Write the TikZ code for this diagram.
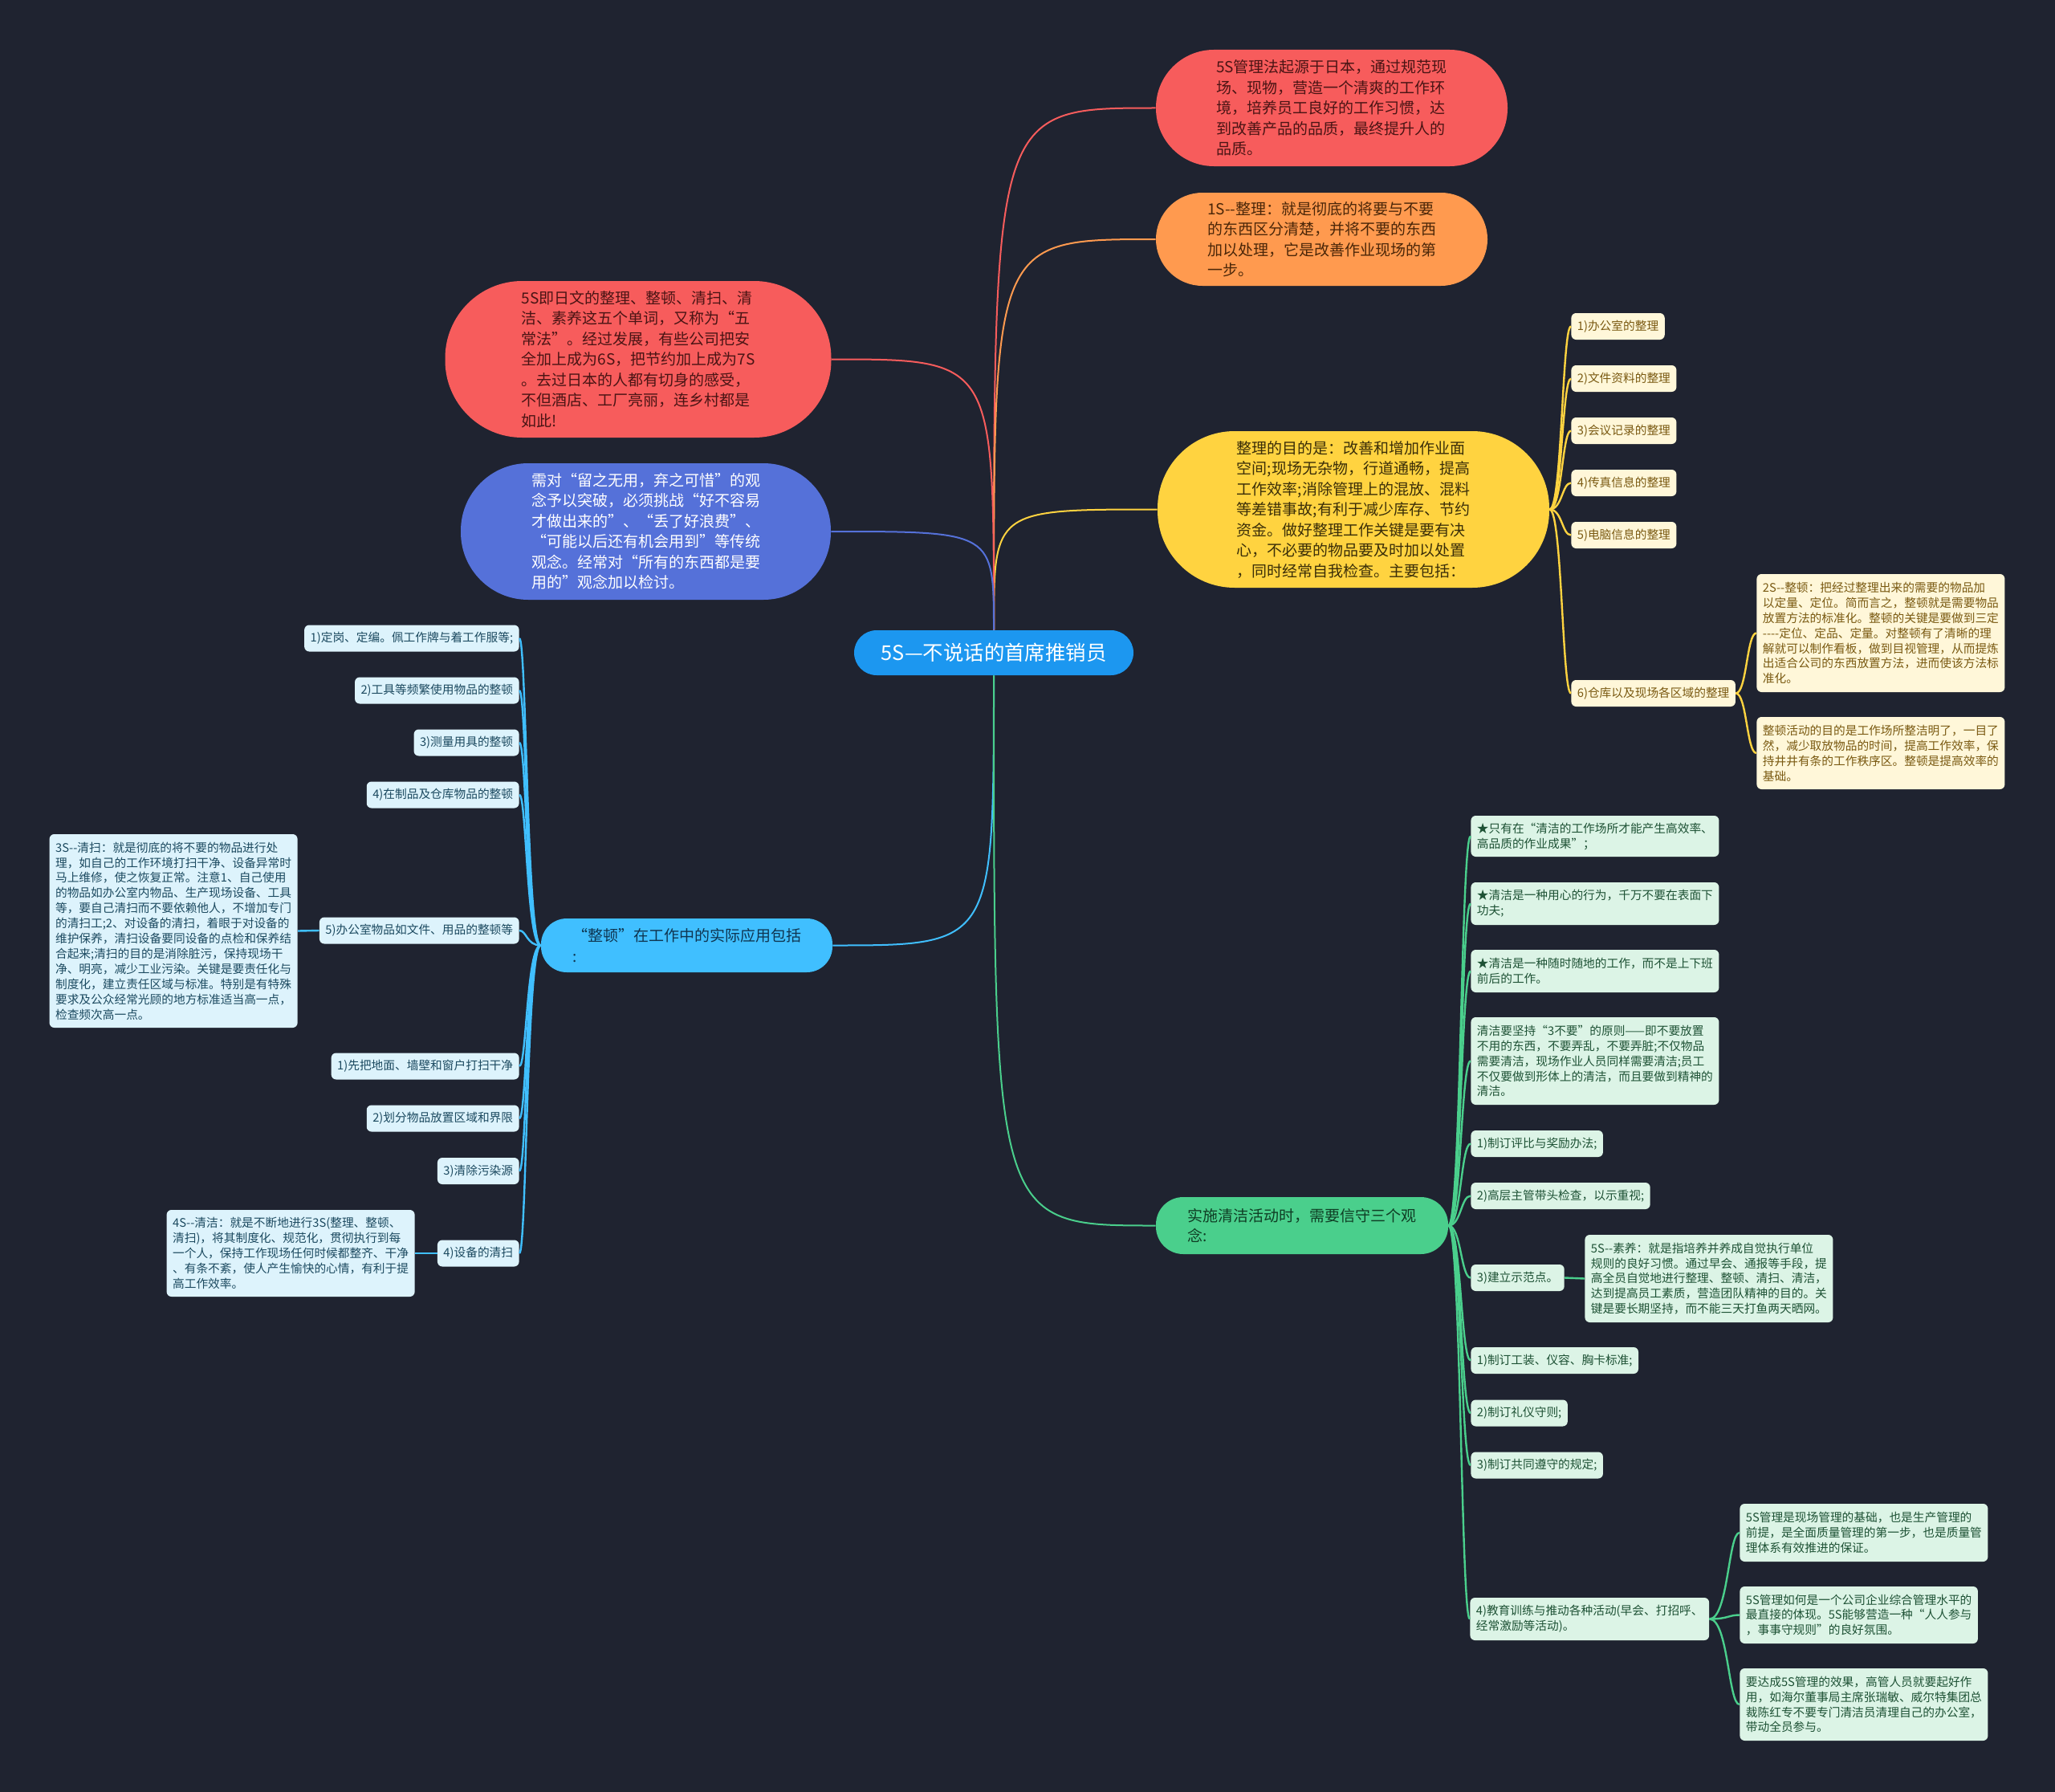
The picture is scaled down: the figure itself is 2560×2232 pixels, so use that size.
\documentclass[tikz,border=0pt]{standalone}
\usepackage{fontspec}
\setmainfont{Noto Sans CJK SC}
\usetikzlibrary{calc}
\definecolor{bg}{HTML}{1F2330}
\definecolor{ctr}{HTML}{1C97F0}
\definecolor{redc}{HTML}{F75C5C}
\definecolor{redt}{HTML}{4A1414}
\definecolor{orgc}{HTML}{FF9A4F}
\definecolor{orgt}{HTML}{4A2608}
\definecolor{ylwc}{HTML}{FFD340}
\definecolor{ylwt}{HTML}{3A2E08}
\definecolor{bluc}{HTML}{5571D9}
\definecolor{skyc}{HTML}{40BFFF}
\definecolor{skyt}{HTML}{0F3550}
\definecolor{grnc}{HTML}{4ACF8C}
\definecolor{grnt}{HTML}{0F3D24}
\definecolor{lfYfill}{HTML}{FFF7D9}
\definecolor{lfYtext}{HTML}{7A5A12}
\definecolor{lfBfill}{HTML}{DDF3FC}
\definecolor{lfBtext}{HTML}{1C4A60}
\definecolor{lfGfill}{HTML}{DCF4E6}
\definecolor{lfGtext}{HTML}{1E5235}
\newcommand\fntbig{\fontsize{9.5pt}{12.75pt}\selectfont}
\newcommand\fntsm{\fontsize{7.35pt}{9.45pt}\selectfont}
\newcommand\fntctr{\fontsize{12.7pt}{15pt}\selectfont}
\tikzset{
  leaf/.style={rounded corners=3pt, inner xsep=3.75pt, inner ysep=1.5pt, align=left, font=\fntsm},
  lfY/.style={leaf, fill=lfYfill, text=lfYtext},
  lfB/.style={leaf, fill=lfBfill, text=lfBtext},
  lfG/.style={leaf, fill=lfGfill, text=lfGtext},
  one/.style={minimum height=16.5pt},
  mainnode/.style={inner sep=0pt, align=left, font=\fntbig},
  cn/.style={line width=1pt},
  sub/.style={line width=1.2pt},
}
\begin{document}
\begin{tikzpicture}[x=0.5pt,y=-0.5pt]
\fill[bg] (0,0) rectangle (2560,2232);

% ---------- main nodes ----------
\node[fill=ctr, text=white, rounded corners=14pt, minimum width=174pt, minimum height=28pt, inner sep=0pt, font=\fntctr] (c) at (1238,813) {5S—不说话的首席推销员};

\node[mainnode, fill=redc, text=redt, rounded corners=36pt, minimum width=219pt, minimum height=72.5pt] (r1) at (1659,134.5) {5S管理法起源于日本，通过规范现\\场、现物，营造一个清爽的工作环\\境，培养员工良好的工作习惯，达\\到改善产品的品质，最终提升人的\\品质。};

\node[mainnode, fill=orgc, text=orgt, rounded corners=29pt, minimum width=206.5pt, minimum height=58pt] (o1) at (1646.5,298) {1S-{}-整理：就是彻底的将要与不要\\的东西区分清楚，并将不要的东西\\加以处理，它是改善作业现场的第\\一步。};

\node[mainnode, fill=ylwc, text=ylwt, rounded corners=48pt, minimum width=244pt, minimum height=97.5pt] (y1) at (1686,634.5) {整理的目的是：改善和增加作业面\\空间;现场无杂物，行道通畅，提高\\工作效率;消除管理上的混放、混料\\等差错事故;有利于减少库存、节约\\资金。做好整理工作关键是要有决\\心，不必要的物品要及时加以处置\\，同时经常自我检查。主要包括：};

\node[mainnode, fill=redc, text=redt, rounded corners=48pt, minimum width=240.5pt, minimum height=97.5pt] (r2) at (795,447.5) {5S即日文的整理、整顿、清扫、清\\洁、素养这五个单词，又称为“五\\常法”。经过发展，有些公司把安\\全加上成为6S，把节约加上成为7S\\。去过日本的人都有切身的感受，\\不但酒店、工厂亮丽，连乡村都是\\如此!};

\node[mainnode, fill=bluc, text=white, rounded corners=42pt, minimum width=230.5pt, minimum height=85pt] (b2) at (804.5,662) {需对“留之无用，弃之可惜”的观\\念予以突破，必须挑战“好不容易\\才做出来的”、“丢了好浪费”、\\“可能以后还有机会用到”等传统\\观念。经常对“所有的东西都是要\\用的”观念加以检讨。};

\node[mainnode, fill=skyc, text=skyt, rounded corners=16pt, minimum width=181.5pt, minimum height=33.5pt] (zd) at (855.5,1177.5) {“整顿”在工作中的实际应用包括\\:};

\node[mainnode, fill=grnc, text=grnt, rounded corners=17pt, minimum width=182pt, minimum height=35.5pt] (gr) at (1622,1526.5) {实施清洁活动时，需要信守三个观\\念:};

% ---------- main connectors ----------
\draw[cn, redc] (c.north) .. controls (c.north |- r1.west) .. (r1.west);
\draw[cn, orgc] (c.north) .. controls (c.north |- o1.west) .. (o1.west);
\draw[cn, ylwc] (c.north) .. controls (c.north |- y1.west) .. (y1.west);
\draw[cn, redc] (c.north) .. controls (c.north |- r2.east) .. (r2.east);
\draw[cn, bluc] (c.north) .. controls (c.north |- b2.east) .. (b2.east);
\draw[cn, skyc] (c.south) .. controls (c.south |- zd.east) .. (zd.east);
\draw[cn, grnc] (c.south) .. controls (c.south |- gr.west) .. (gr.west);

% ---------- yellow children ----------
\node[lfY, one, anchor=west] (ya) at (1957,406.5) {1)办公室的整理};
\node[lfY, one, anchor=west] (yb) at (1957,471.5) {2)文件资料的整理};
\node[lfY, one, anchor=west] (yc) at (1957,536.5) {3)会议记录的整理};
\node[lfY, one, anchor=west] (yd) at (1957,601.5) {4)传真信息的整理};
\node[lfY, one, anchor=west] (ye) at (1957,666.5) {5)电脑信息的整理};
\node[lfY, one, anchor=west] (yf) at (1957,863.5) {6)仓库以及现场各区域的整理};
\node[lfY, anchor=west, minimum height=73.5pt] (yfa) at (2188,788.5) {2S-{}-整顿：把经过整理出来的需要的物品加\\以定量、定位。简而言之，整顿就是需要物品\\放置方法的标准化。整顿的关键是要做到三定\\-{}-{}-{}-定位、定品、定量。对整顿有了清晰的理\\解就可以制作看板，做到目视管理，从而提炼\\出适合公司的东西放置方法，进而使该方法标\\准化。};
\node[lfY, anchor=west, minimum height=45pt] (yfb) at (2188,938) {整顿活动的目的是工作场所整洁明了，一目了\\然，减少取放物品的时间，提高工作效率，保\\持井井有条的工作秩序区。整顿是提高效率的\\基础。};

\coordinate (ty) at (1946,0);
\coordinate (tyf) at (2176,0);
\foreach \n in {ya,yb,yc,yd,ye,yf}
  \draw[sub, ylwc] (y1.east) .. controls (y1.east -| ty) and (\n.west -| ty) .. (\n.west);
\foreach \n in {yfa,yfb}
  \draw[sub, ylwc] (yf.east) .. controls (yf.east -| tyf) and (\n.west -| tyf) .. (\n.west);

% ---------- sky (zhengdun) children ----------
\node[lfB, one, anchor=east] (za) at (647,795) {1)定岗、定编。佩工作牌与着工作服等;};
\node[lfB, one, anchor=east] (zb) at (647,860) {2)工具等频繁使用物品的整顿};
\node[lfB, one, anchor=east] (zc) at (647,925) {3)测量用具的整顿};
\node[lfB, one, anchor=east] (zdd) at (647,990) {4)在制品及仓库物品的整顿};
\node[lfB, one, anchor=east] (ze) at (647,1159) {5)办公室物品如文件、用品的整顿等};
\node[lfB, anchor=east, minimum height=120.5pt] (zea) at (371,1159.5) {3S-{}-清扫：就是彻底的将不要的物品进行处\\理，如自己的工作环境打扫干净、设备异常时\\马上维修，使之恢复正常。注意1、自己使用\\的物品如办公室内物品、生产现场设备、工具\\等，要自己清扫而不要依赖他人，不增加专门\\的清扫工;2、对设备的清扫，着眼于对设备的\\维护保养，清扫设备要同设备的点检和保养结\\合起来;清扫的目的是消除脏污，保持现场干\\净、明亮，减少工业污染。关键是要责任化与\\制度化，建立责任区域与标准。特别是有特殊\\要求及公众经常光顾的地方标准适当高一点，\\检查频次高一点。};
\node[lfB, one, anchor=east] (zf) at (647,1328) {1)先把地面、墙壁和窗户打扫干净};
\node[lfB, one, anchor=east] (zg) at (647,1393) {2)划分物品放置区域和界限};
\node[lfB, one, anchor=east] (zh) at (647,1458.5) {3)清除污染源};
\node[lfB, one, anchor=east] (zi) at (647,1561) {4)设备的清扫};
\node[lfB, anchor=east, minimum height=54pt] (zia) at (517,1561) {4S-{}-清洁：就是不断地进行3S(整理、整顿、\\清扫)，将其制度化、规范化，贯彻执行到每\\一个人，保持工作现场任何时候都整齐、干净\\、有条不紊，使人产生愉快的心情，有利于提\\高工作效率。};

\coordinate (tz) at (656,0);
\foreach \n in {za,zb,zc,zdd,ze,zf,zg,zh,zi}
  \draw[sub, skyc] (zd.west) .. controls (zd.west -| tz) and (\n.east -| tz) .. (\n.east);
\draw[sub, skyc] (ze.west) -- (zea.east);
\draw[sub, skyc] (zi.west) -- (zia.east);

% ---------- green children ----------
\node[lfG, anchor=west, minimum height=25.5pt] (ga) at (1832,1041.5) {★只有在“清洁的工作场所才能产生高效率、\\高品质的作业成果”；};
\node[lfG, anchor=west, minimum height=26.5pt] (gb) at (1832,1125.5) {★清洁是一种用心的行为，千万不要在表面下\\功夫;};
\node[lfG, anchor=west, minimum height=26.5pt] (gc) at (1832,1209.5) {★清洁是一种随时随地的工作，而不是上下班\\前后的工作。};
\node[lfG, anchor=west, minimum height=54.5pt] (gd) at (1832,1321.5) {清洁要坚持“3不要”的原则——即不要放置\\不用的东西，不要弄乱，不要弄脏;不仅物品\\需要清洁，现场作业人员同样需要清洁;员工\\不仅要做到形体上的清洁，而且要做到精神的\\清洁。};
\node[lfG, one, anchor=west] (ge) at (1832,1424.5) {1)制订评比与奖励办法;};
\node[lfG, one, anchor=west] (gf) at (1832,1489.5) {2)高层主管带头检查，以示重视;};
\node[lfG, one, anchor=west] (gg) at (1832,1591.5) {3)建立示范点。};
\node[lfG, anchor=west, minimum height=54.5pt] (gga) at (1974,1592.5) {5S-{}-素养：就是指培养并养成自觉执行单位\\规则的良好习惯。通过早会、通报等手段，提\\高全员自觉地进行整理、整顿、清扫、清洁，\\达到提高员工素质，营造团队精神的目的。关\\键是要长期坚持，而不能三天打鱼两天晒网。};
\node[lfG, one, anchor=west] (gh) at (1832,1694.5) {1)制订工装、仪容、胸卡标准;};
\node[lfG, one, anchor=west] (gi) at (1832,1760) {2)制订礼仪守则;};
\node[lfG, one, anchor=west] (gj) at (1832,1825) {3)制订共同遵守的规定;};
\node[lfG, anchor=west, minimum height=26.5pt] (gk) at (1831,2016.5) {4)教育训练与推动各种活动(早会、打招呼、\\经常激励等活动)。};
\node[lfG, anchor=west, minimum height=36pt] (gka) at (2167,1909) {5S管理是现场管理的基础，也是生产管理的\\前提，是全面质量管理的第一步，也是质量管\\理体系有效推进的保证。};
\node[lfG, anchor=west, minimum height=35.5pt] (gkb) at (2167,2011.5) {5S管理如何是一个公司企业综合管理水平的\\最直接的体现。5S能够营造一种“人人参与\\，事事守规则”的良好氛围。};
\node[lfG, anchor=west, minimum height=45pt] (gkc) at (2167,2123) {要达成5S管理的效果，高管人员就要起好作\\用，如海尔董事局主席张瑞敏、威尔特集团总\\裁陈红专不要专门清洁员清理自己的办公室，\\带动全员参与。};

\coordinate (tg) at (1820,0);
\coordinate (tgk) at (2153,0);
\foreach \n in {ga,gb,gc,gd,ge,gf,gg,gh,gi,gj,gk}
  \draw[sub, grnc] (gr.east) .. controls (gr.east -| tg) and (\n.west -| tg) .. (\n.west);
\draw[sub, grnc] (gg.east) -- (gga.west);
\foreach \n in {gka,gkb,gkc}
  \draw[sub, grnc] (gk.east) .. controls (gk.east -| tgk) and (\n.west -| tgk) .. (\n.west);
\end{tikzpicture}
\end{document}
